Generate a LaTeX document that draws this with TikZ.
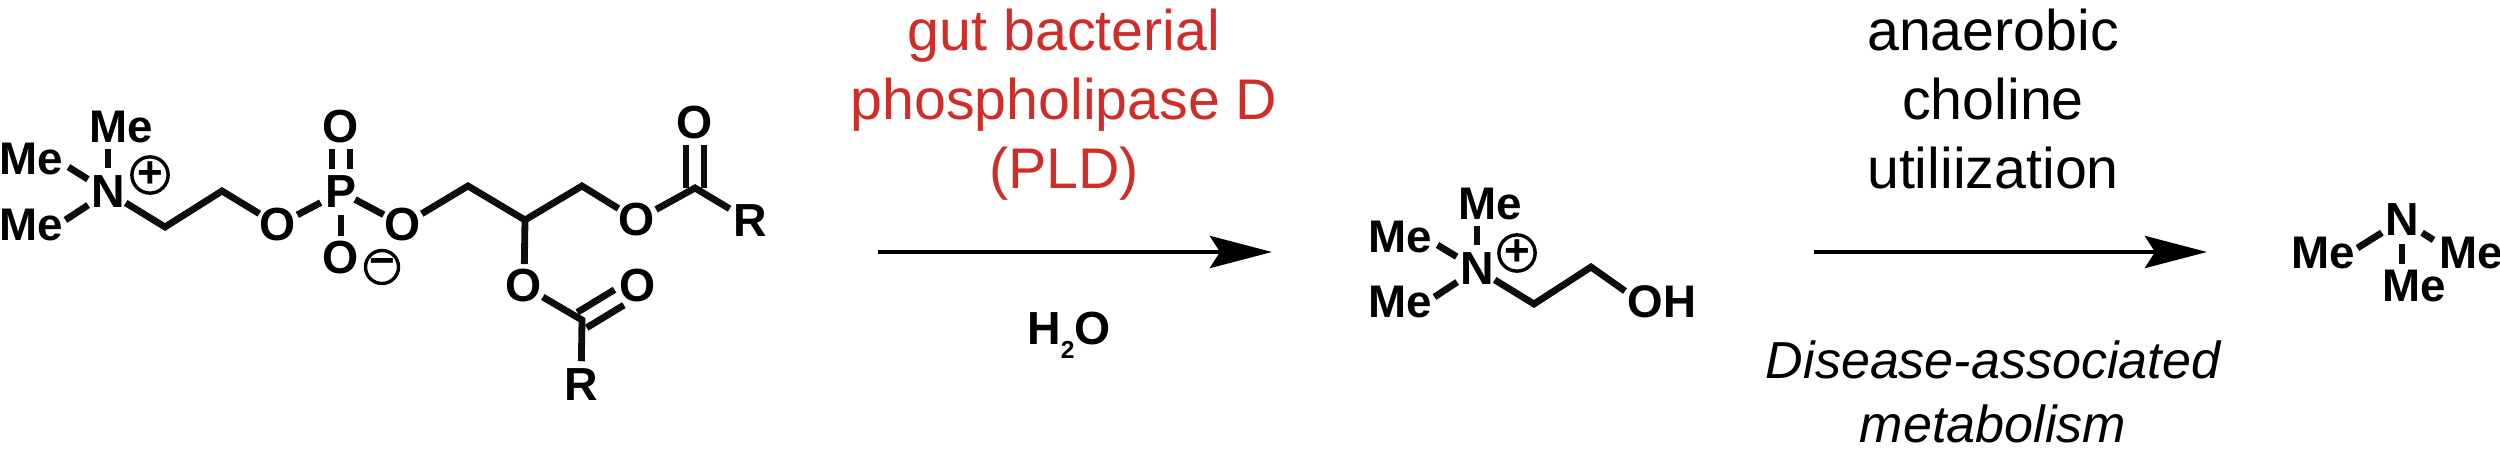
\documentclass[tikz,border=0pt]{standalone}
\usepackage{fontspec}
\setmainfont{Liberation Sans}
\usetikzlibrary{arrows.meta,calc}
\definecolor{pldred}{RGB}{209,45,40}

\begin{document}
\begin{tikzpicture}[x=.01cm,y=-.01cm,
    bond/.style={line width=.068cm,black!95},
    rxn/.style={line width=.045cm,-{Stealth[length=.62cm,width=.32cm,inset=.1cm]}},
    atom/.style={circle,inner sep=0pt,font=\fontsize{13.2}{15}\bfseries\selectfont},
    oxy/.style={atom,outer sep=-.025cm},
    methyl/.style={inner xsep=.05cm,inner ysep=.055cm,font=\fontsize{13}{15}\bfseries\selectfont},
    chg/.style={circle,draw,line width=.034cm,inner sep=0pt,minimum size=.33cm,font=\fontsize{12.5}{12}\bfseries\selectfont},
    lbl/.style={align=center,font=\fontsize{16.3}{19.6}\selectfont}]
    \useasboundingbox (0,0) rectangle (2500,470);
    \node[atom] (Na) at (108,192) {N};
    \node[methyl] (Mta) at (121,127) {Me};
    \node[methyl] (Mla) at (31,159) {Me};
    \node[methyl] (Mba) at (31,225) {Me};
    \node[chg] (Pa) at (150,175) {+};
    \coordinate (ca) at (165,227);
    \coordinate (cb) at (222,191);
    \node[oxy] (Oa) at (278,225) {O};
    \node[atom] (P) at (341,192) {P};
    \node[oxy] (Ob) at (341,127) {O};
    \node[oxy] (Oc) at (341,258) {O};
    \node[oxy] (Od) at (403,225) {O};
    \node[chg] (Ma) at (382,267) {−};
    \coordinate (cc) at (468,186);
    \coordinate (cd) at (525,220);
    \coordinate (ce) at (582,186);
    \node[oxy] (Oe) at (637,220) {O};
    \coordinate (cf) at (695,188);
    \node[oxy] (Of) at (695,123) {O};
    \node[atom] (Rf) at (750,221) {R};
    \node[oxy] (Og) at (524,286) {O};
    \coordinate (cg) at (582,320);
    \node[oxy] (Oh) at (638,286) {O};
    \node[atom] (Rg) at (581,385) {R};

    \draw[bond] (Na) -- (Na |- Mta.south);
    \draw[bond] (Na) -- ($(Mla.east)+(0,8)$);
    \draw[bond] (Na) -- ($(Mba.east)+(-3,-5)$);
    \draw[bond,shorten <=-.03cm] (Na) -- (ca) -- (cb) -- (Oa);
    \draw[bond] (Oa) -- (P);
    \draw[bond] ([xshift=-.09cm]P.north) -- ([xshift=-.09cm]Ob.south);
    \draw[bond] ([xshift=.09cm]P.north) -- ([xshift=.09cm]Ob.south);
    \draw[bond] (P) -- (Oc);
    \draw[bond,shorten <=-.07cm] (P) -- (Od);
    \draw[bond] (Od) -- (cc) -- (cd) -- (ce) -- (Oe);
    \draw[bond] (Oe) -- (cf) -- (Rf);
    \draw[bond] ([xshift=-.09cm]cf) -- ([xshift=-.09cm]Of.south);
    \draw[bond] ([xshift=.09cm]cf) -- ([xshift=.09cm]Of.south);
    \draw[bond] (cd) -- (Og);
    \draw[bond] (Og) -- (cg) -- (Rg);
    \draw[bond,shorten >=.22cm] ($(cg)+(-4.7,-7.7)$) -- ($(Oh)+(-4.7,-7.7)$);
    \draw[bond,shorten >=.22cm] ($(cg)+(4.7,7.7)$) -- ($(Oh)+(4.7,7.7)$);

    \coordinate (aa) at (878,252);
    \coordinate (ab) at (1272,252);
    \draw[rxn] (aa) -- (ab);
    \node[lbl,text=pldred] (Tpld) at (1064,105) {gut bacterial\\phospholipase D\\(PLD)};
    \node[font=\fontsize{13.2}{15}\bfseries\selectfont] (Twater) at (1069,335) {H\raisebox{-4pt}{\fontsize{7}{7}\bfseries\selectfont 2}O};

    \node[atom] (Nb) at (1477,269) {N};
    \node[methyl] (Mtb) at (1490,204) {Me};
    \node[methyl] (Mlb) at (1400,237) {Me};
    \node[methyl] (Mbb) at (1400,302) {Me};
    \node[chg] (Pb) at (1517,253) {+};
    \coordinate (ch) at (1534,304);
    \coordinate (ci) at (1591,267);
    \node[methyl] (OH) at (1662,302) {OH};
    \draw[bond] (Nb) -- (Nb |- Mtb.south);
    \draw[bond] (Nb) -- ($(Mlb.east)+(0,8)$);
    \draw[bond] (Nb) -- ($(Mbb.east)+(-3,-5)$);
    \draw[bond,shorten <=-.03cm] (Nb) -- (ch) -- (ci) -- ($(OH.west)+(3,-11)$);

    \coordinate (ac) at (1814,252);
    \coordinate (ad) at (2207,252);
    \draw[rxn] (ac) -- (ad);
    \node[lbl] (Tcut) at (1993,99) {anaerobic\\choline\\utiliization};
    \node[lbl,font=\fontsize{14.8}{18.2}\itshape\selectfont] (Tdis) at (1993,392) {Disease-associated\\metabolism};

    \node[atom] (Nc) at (2402,220) {N};
    \node[methyl] (Mlc) at (2323,253) {Me};
    \node[methyl] (Mrc) at (2471,253) {Me};
    \node[methyl] (Mbc) at (2414,286) {Me};
    \draw[bond] (Nc) -- ($(Mlc.east)+(-3,-5)$);
    \draw[bond] (Nc) -- ($(Mrc.west)+(0,-13)$);
    \draw[bond] (Nc) -- (Nc |- Mbc.north);
\end{tikzpicture}
\end{document}
